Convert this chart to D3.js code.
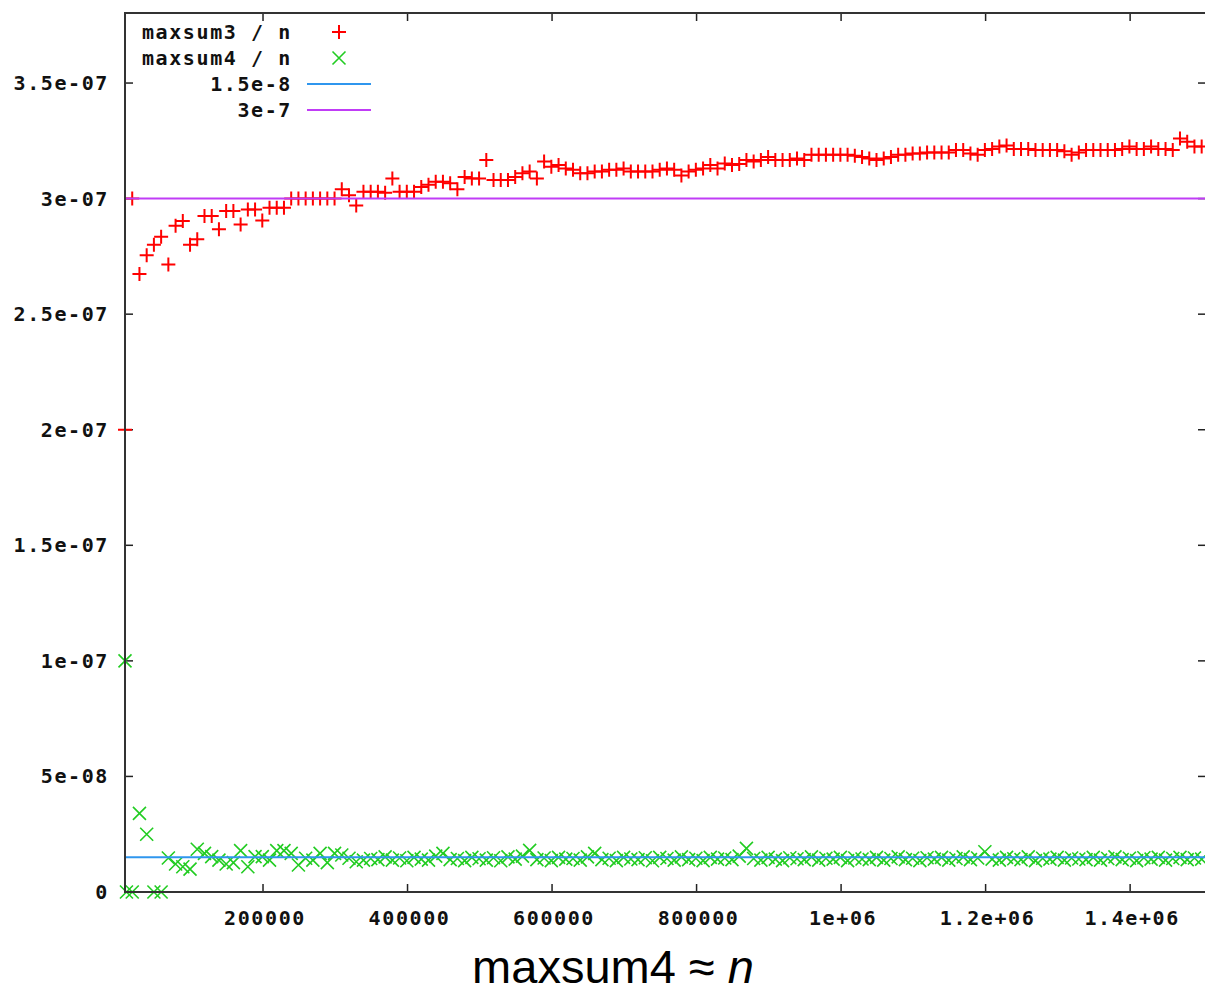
<!DOCTYPE html>
<html lang="en">
<head>
	<meta charset="UTF-8">
	<title>maxsum4 ≈ n</title>
	<script src="https://cdn.jsdelivr.net/npm/d3@7"></script>
	<style>
		body { margin: 0; background: #fff; }
		svg text.mono {
			font-family: "DejaVu Sans Mono", monospace;
			font-weight: bold;
			font-size: 20px;
			letter-spacing: 1.6px;
			fill: #111;
		}
		svg text.caption {
			font-family: "Liberation Sans", Arial, sans-serif;
			font-size: 47px;
			fill: #000;
		}
	</style>
</head>
<body>
<div id="viz"></div>
<script type="text/javascript">
	// sample sizes n, in thousands
	let sizesK = [
		9, 19, 29, 39, 49, 59, 69, 79, 89, 99,
		109, 119, 129, 139, 149, 159, 169, 179, 189, 199,
		209, 219, 229, 239, 249, 259, 269, 279, 289, 299,
		309, 319, 329, 339, 349, 359, 369, 379, 389, 399,
		409, 419, 429, 439, 449, 459, 469, 479, 489, 499,
		509, 519, 529, 539, 549, 559, 569, 579, 589, 599,
		609, 619, 629, 639, 649, 659, 669, 679, 689, 699,
		709, 719, 729, 739, 749, 759, 769, 779, 789, 799,
		809, 819, 829, 839, 849, 859, 869, 879, 889, 899,
		909, 919, 929, 939, 949, 959, 969, 979, 989, 999,
		1009, 1019, 1029, 1039, 1049, 1059, 1069, 1079, 1089, 1099,
		1109, 1119, 1129, 1139, 1149, 1159, 1169, 1179, 1189, 1199,
		1209, 1219, 1229, 1239, 1249, 1259, 1269, 1279, 1289, 1299,
		1309, 1319, 1329, 1339, 1349, 1359, 1369, 1379, 1389, 1399,
		1409, 1419, 1429, 1439, 1449, 1459, 1469, 1479, 1489, 1499
	];

	// maxsum3 / n, in units of 1e-7
	let maxsum3 = [
		2.0, 3.0, 2.674, 2.755, 2.80, 2.835, 2.715, 2.883, 2.903, 2.80,
		2.824, 2.925, 2.925, 2.867, 2.946, 2.946, 2.888, 2.953, 2.953, 2.905,
		2.96, 2.96, 2.96, 3.0, 3.0, 3.0, 3.0, 3.0, 3.0, 3.0,
		3.04, 3.015, 2.97, 3.03, 3.03, 3.03, 3.025, 3.087, 3.03, 3.03,
		3.03, 3.05, 3.06, 3.073, 3.073, 3.066, 3.04, 3.094, 3.087, 3.087,
		3.167, 3.08, 3.08, 3.08, 3.094, 3.11, 3.117, 3.087, 3.16, 3.138,
		3.145, 3.13, 3.125, 3.11, 3.11, 3.117, 3.117, 3.125, 3.125, 3.13,
		3.117, 3.117, 3.117, 3.117, 3.125, 3.13, 3.125, 3.10, 3.117, 3.125,
		3.13, 3.145, 3.13, 3.152, 3.145, 3.15, 3.167, 3.16, 3.167, 3.18,
		3.167, 3.167, 3.167, 3.174, 3.167, 3.19, 3.19, 3.19, 3.19, 3.19,
		3.19, 3.185, 3.18, 3.174, 3.167, 3.174, 3.18, 3.19, 3.19, 3.195,
		3.195, 3.20, 3.20, 3.20, 3.20, 3.21, 3.21, 3.195, 3.19, 3.21,
		3.215, 3.225, 3.23, 3.215, 3.215, 3.215, 3.21, 3.21, 3.21, 3.21,
		3.205, 3.19, 3.20, 3.21, 3.21, 3.21, 3.21, 3.21, 3.215, 3.225,
		3.215, 3.215, 3.225, 3.215, 3.215, 3.21, 3.26, 3.246, 3.225, 3.225
	];

	// maxsum4 / n, in units of 1e-8
	let maxsum4 = [
		10, 0, 3.4, 2.5, 0, 0, 1.47, 1.21, 1.09, 0.99,
		1.85, 1.67, 1.53, 1.38, 1.21, 1.27, 1.79, 1.09, 1.53, 1.53,
		1.38, 1.79, 1.79, 1.67, 1.17, 1.46, 1.38, 1.67, 1.27, 1.67,
		1.60, 1.46, 1.31, 1.38, 1.45, 1.40, 1.52, 1.38, 1.47, 1.35,
		1.50, 1.42, 1.38, 1.55, 1.67, 1.40, 1.45, 1.36, 1.50, 1.44,
		1.38, 1.48, 1.35, 1.52, 1.42, 1.55, 1.80, 1.40, 1.47, 1.36,
		1.50, 1.42, 1.45, 1.38, 1.52, 1.67, 1.40, 1.46, 1.36, 1.50,
		1.43, 1.40, 1.48, 1.35, 1.50, 1.45, 1.38, 1.52, 1.40, 1.46,
		1.36, 1.50, 1.42, 1.47, 1.40, 1.55, 1.89, 1.45, 1.38, 1.50,
		1.42, 1.36, 1.48, 1.44, 1.40, 1.52, 1.38, 1.46, 1.42, 1.50,
		1.36, 1.47, 1.43, 1.40, 1.50, 1.38, 1.45, 1.52, 1.40, 1.46,
		1.36, 1.48, 1.42, 1.50, 1.38, 1.45, 1.52, 1.40, 1.47, 1.74,
		1.42, 1.38, 1.50, 1.44, 1.40, 1.52, 1.36, 1.46, 1.42, 1.50,
		1.38, 1.47, 1.43, 1.40, 1.50, 1.38, 1.45, 1.52, 1.40, 1.46,
		1.36, 1.48, 1.42, 1.50, 1.38, 1.45, 1.50, 1.40, 1.47, 1.42
	];
	// an extra maxsum4 point at the very start: [n in thousands, value 1e-8]
	let maxsum4Extra = [[11, 0]];

	let constLines = [
		{label: '1.5e-8', value: 1.5e-8, color: '#2f96ee'},
		{label: '3e-7', value: 3e-7, color: '#c03cf6'}
	];

	let yTicks = [0, 5e-8, 1e-7, 1.5e-7, 2e-7, 2.5e-7, 3e-7, 3.5e-7];
	let yTickLabels = ['0', '5e-08', '1e-07', '1.5e-07', '2e-07', '2.5e-07', '3e-07', '3.5e-07'];
	let xTicks = [200000, 400000, 600000, 800000, 1000000, 1200000, 1400000];
	let xTickLabels = ['200000', '400000', '600000', '800000', '1e+06', '1.2e+06', '1.4e+06'];

	window.onload = () => {
		let W = 1205, H = 994;
		let mLeft = 125, mRight = 1206, mTop = 13, mBottom = 892;

		let x = d3.scaleLinear().domain([9000, 1505000]).range([mLeft, mRight]);
		let y = d3.scaleLinear().domain([0, 3.8e-7]).range([mBottom, mTop + 0.7]);

		let red = '#ff0000', green = '#22cc22';

		let svg = d3.select('#viz').append('svg')
			.attr('width', W).attr('height', H);

		svg.append('defs').append('clipPath').attr('id', 'plot')
			.append('rect').attr('x', mLeft - 8).attr('y', mTop)
			.attr('width', mRight - mLeft + 8).attr('height', mBottom - mTop + 8);

		// ticks (mirrored on all four sides)
		let tickG = svg.append('g').attr('stroke', '#222').attr('stroke-width', 1.5);
		yTicks.forEach((t) => {
			tickG.append('line').attr('x1', mLeft).attr('x2', mLeft + 8).attr('y1', y(t)).attr('y2', y(t));
			tickG.append('line').attr('x1', mRight - 8).attr('x2', mRight).attr('y1', y(t)).attr('y2', y(t));
		});
		xTicks.forEach((t) => {
			tickG.append('line').attr('x1', x(t)).attr('x2', x(t)).attr('y1', mBottom).attr('y2', mBottom - 8);
			tickG.append('line').attr('x1', x(t)).attr('x2', x(t)).attr('y1', mTop).attr('y2', mTop + 8);
		});

		svg.append('g').selectAll('text').data(yTicks).enter().append('text')
			.attr('class', 'mono')
			.attr('x', 109)
			.attr('y', (d) => y(d) + 7)
			.attr('text-anchor', 'end')
			.text((d, i) => yTickLabels[i]);

		svg.append('g').selectAll('text').data(xTicks).enter().append('text')
			.attr('class', 'mono')
			.attr('x', (d) => x(d) + 2)
			.attr('y', 925)
			.attr('text-anchor', 'middle')
			.text((d, i) => xTickLabels[i]);

		let plot = svg.append('g').attr('clip-path', 'url(#plot)');

		function plus(g, cx, cy, s) {
			g.append('path')
				.attr('d', 'M' + (cx - s) + ',' + cy + 'H' + (cx + s) + 'M' + cx + ',' + (cy - s) + 'V' + (cy + s))
				.attr('stroke', red).attr('stroke-width', 2).attr('fill', 'none');
		}

		function cross(g, cx, cy, s) {
			g.append('path')
				.attr('d', 'M' + (cx - s) + ',' + (cy - s) + 'L' + (cx + s) + ',' + (cy + s) +
					'M' + (cx - s) + ',' + (cy + s) + 'L' + (cx + s) + ',' + (cy - s))
				.attr('stroke', green).attr('stroke-width', 1.6).attr('fill', 'none');
		}

		let redG = plot.append('g');
		maxsum3.forEach((v, i) => plus(redG, x(sizesK[i] * 1000), y(v * 1e-7), 7));

		let greenG = plot.append('g');
		maxsum4.forEach((v, i) => cross(greenG, x(sizesK[i] * 1000), y(v * 1e-8), 6.5));
		maxsum4Extra.forEach((d) => cross(greenG, x(d[0] * 1000), y(d[1] * 1e-8), 6.5));

		constLines.forEach((c) => {
			plot.append('line')
				.attr('x1', mLeft).attr('x2', mRight)
				.attr('y1', y(c.value)).attr('y2', y(c.value))
				.attr('stroke', c.color).attr('stroke-width', 2);
		});

		// border
		svg.append('rect')
			.attr('x', mLeft).attr('y', mTop)
			.attr('width', mRight - mLeft).attr('height', mBottom - mTop)
			.attr('fill', 'none').attr('stroke', '#333').attr('stroke-width', 2);

		// legend
		let keyNames = ['maxsum3 / n', 'maxsum4 / n', constLines[0].label, constLines[1].label];
		let key = svg.append('g');
		keyNames.forEach((name, i) => {
			let ky = 32 + i * 26;
			key.append('text').attr('class', 'mono')
				.attr('x', 292).attr('y', ky + 7)
				.attr('text-anchor', 'end')
				.text(name);
			if (i === 0) plus(key, 339, ky, 7);
			else if (i === 1) cross(key, 339, ky, 6.5);
			else key.append('line')
				.attr('x1', 307).attr('x2', 371).attr('y1', ky).attr('y2', ky)
				.attr('stroke', constLines[i - 2].color).attr('stroke-width', 2);
		});

		let cap = svg.append('text').attr('class', 'caption')
			.attr('x', 613).attr('y', 983).attr('text-anchor', 'middle');
		cap.append('tspan').text('maxsum4 ≈ ');
		cap.append('tspan').attr('font-style', 'italic').text('n');
	};
</script>
</body>
</html>
